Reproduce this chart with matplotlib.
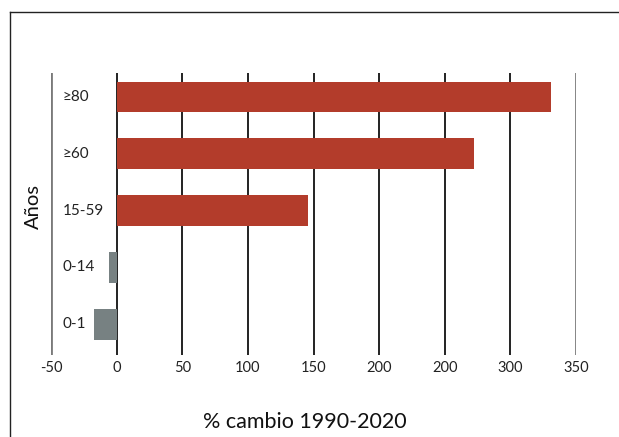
import matplotlib
matplotlib.use("Agg")
import matplotlib.pyplot as plt
from matplotlib.lines import Line2D

categories = ["0-1", "0-14", "15-59", "\u226560", "\u226580"]
values = [-17, -6, 146, 272, 331]
tick_values = [-50, 0, 50, 100, 150, 200, 250, 300, 350]
tick_labels = ["-50", "0", "50", "100", "150", "200", "200", "300", "350"]

RED = "#B33C2B"
GREY = "#778182"

plt.rcParams["font.family"] = ["Lato", "DejaVu Sans"]

fig = plt.figure(figsize=(6.19, 4.37), dpi=100)
ax = fig.add_axes([51/619, 1 - 355/437, (576-51)/619, (355-73)/437])

ax.set_xlim(-50, 350)
ax.set_ylim(-0.54, 4.42)

for t in tick_values:
    edge = t in (tick_values[0], tick_values[-1])
    ax.axvline(t, color="#7a7a7a" if edge else "#111111",
               lw=2.0 if edge else 1.3, zorder=1)

colors = [RED if v > 0 else GREY for v in values]
ax.barh(range(len(categories)), values, height=0.54, color=colors, zorder=2)

for i, c in enumerate(categories):
    ax.text(-41, i, c.replace("-", "\u2009-\u2009") if False else c, ha="left", va="center",
            fontsize=11, color="#222222")

ax.set_yticks([])
ax.set_xticks(tick_values)
ax.set_xticklabels(tick_labels, fontsize=10.5, color="#222222")
ax.tick_params(axis="x", length=0, pad=4)
for s in ax.spines.values():
    s.set_visible(False)

fig.text(33/619, 1 - 207/437, "Años", rotation=90, ha="center", va="center",
         fontsize=14.5, color="#111111")
fig.text(305/619, 1 - 422/437, "% cambio 1990-2020", ha="center", va="center",
         fontsize=15.5, color="#111111")

fig.add_artist(Line2D([10/619, 10/619], [0, 1 - 12/437], color="#222222", lw=1.0))
fig.add_artist(Line2D([10/619, 1], [1 - 12/437, 1 - 12/437], color="#222222", lw=1.0))

fig.savefig("out.png", dpi=100)
